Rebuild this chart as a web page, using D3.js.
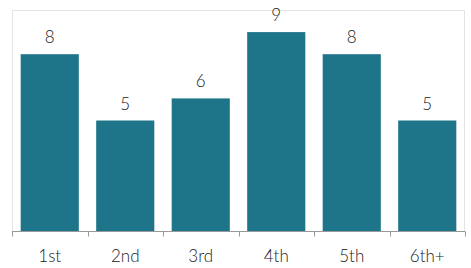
<!DOCTYPE html>
<html>
<head>
<meta charset="utf-8">
<script src="https://cdn.jsdelivr.net/npm/d3@7"></script>
<style>
    body { margin: 0; background: #fff; }
    text { font-family: Lato, sans-serif; font-weight: 300; fill: #222; }
</style>
</head>
<body>
<script>
// Chart data
const categories = ["1st", "2nd", "3rd", "4th", "5th", "6th+"];
const values = [8, 5, 6, 9, 8, 5];

// Set chart dimensions
const width = 471;
const height = 268;
const margin = { top: 10, right: 6, bottom: 37, left: 12 };

const svg = d3.select("body")
    .append("svg")
    .attr("width", width)
    .attr("height", height);

// Scales
const xScale = d3.scaleBand()
    .domain(categories)
    .range([margin.left, width - margin.right])
    .paddingInner(0.23)
    .paddingOuter(0.115);

const yScale = d3.scaleLinear()
    .domain([0, 10])
    .range([height - margin.bottom, margin.top]);

// Light plot border
svg.append("rect")
    .attr("x", margin.left + 0.5)
    .attr("y", margin.top + 0.5)
    .attr("width", width - margin.left - margin.right - 1)
    .attr("height", height - margin.top - margin.bottom)
    .attr("fill", "none")
    .attr("stroke", "#e4e4e4");

// Bars
svg.selectAll(".bar")
    .data(values)
    .join("rect")
    .attr("class", "bar")
    .attr("x", (d, i) => xScale(categories[i]))
    .attr("y", d => yScale(d))
    .attr("width", xScale.bandwidth())
    .attr("height", d => yScale(0) - yScale(d))
    .attr("fill", "#1e7489");

// Value labels
svg.selectAll(".value-label")
    .data(values)
    .join("text")
    .attr("class", "value-label")
    .attr("x", (d, i) => xScale(categories[i]) + xScale.bandwidth() / 2)
    .attr("y", d => yScale(d) - 11)
    .attr("text-anchor", "middle")
    .style("font-size", "17px")
    .text(d => d);

// X axis with ticks between categories
const axisY = yScale(0) + 0.5;
const step = (width - margin.left - margin.right) / categories.length;
const tickPositions = d3.range(categories.length + 1).map(i => margin.left + i * step);

svg.append("line")
    .attr("x1", margin.left)
    .attr("x2", width - margin.right)
    .attr("y1", axisY)
    .attr("y2", axisY)
    .attr("stroke", "#999");

svg.selectAll(".tick-mark")
    .data(tickPositions)
    .join("line")
    .attr("class", "tick-mark")
    .attr("x1", d => Math.round(d) + 0.5)
    .attr("x2", d => Math.round(d) + 0.5)
    .attr("y1", axisY)
    .attr("y2", axisY + 5)
    .attr("stroke", "#999");

// Category labels
svg.selectAll(".cat-label")
    .data(categories)
    .join("text")
    .attr("class", "cat-label")
    .attr("x", d => xScale(d) + xScale.bandwidth() / 2)
    .attr("y", 262)
    .attr("text-anchor", "middle")
    .style("font-size", "17px")
    .text(d => d);
</script>
</body>
</html>
